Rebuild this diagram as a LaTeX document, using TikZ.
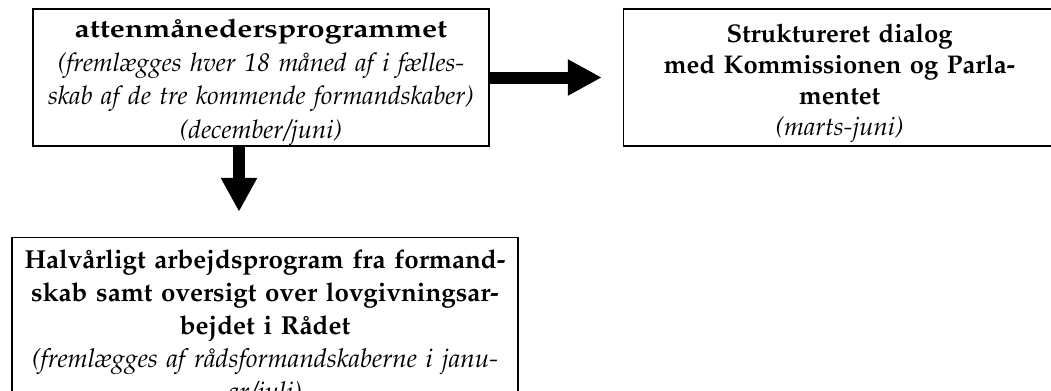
\documentclass[tikz,border=0pt]{standalone}
\usepackage[T1]{fontenc}
\usepackage{mathpazo}
\usepackage{graphicx}
\usetikzlibrary{arrows.meta, positioning}

\begin{document}
\begin{tikzpicture}[
    x=0.5pt, y=-0.5pt,
    node distance=1cm,
    box/.style={draw, rectangle, line width=0.8pt, align=center, inner xsep=0pt, inner ysep=0pt},
    bigarrow/.style={-{Triangle[length=17pt, width=17pt]}, line width=6pt}
]
\useasboundingbox (0,0) rectangle (1051,391);
\clip (0,0) rectangle (1051,391);

% attenmaanedersprogram, dialog og halvaarligt program
\node[box, text width=228pt, minimum height=68.5pt, font=\fontsize{12.8}{13}\selectfont] (prog18) at (261,77.5)
  {\rule{0pt}{14pt}\scalebox{1.18}[1]{\textbf{attenm\aa nedersprogrammet}}\\[3.8pt]
   \textit{(freml\ae gges hver 18 m\aa ned af i f\ae lles-}\\[3.8pt]
   \textit{skab af de tre kommende formandskaber)}\\[3.8pt]
   \textit{(december/juni)}};
\node[box, text width=216pt, minimum height=68.5pt, right=66.5pt of prog18,
  font=\fontsize{12.8}{13.5}\selectfont] (dialog)
  {\rule{0pt}{15pt}\textbf{Struktureret dialog}\\[2pt]
   \textbf{med Kommissionen og Parla-}\\[2pt]
   \textbf{mentet}\\[2pt]
   \textit{(marts-juni)}};
\node[box, text width=253pt, minimum height=91.5pt, below=45pt of prog18, xshift=2pt,
  font=\fontsize{13}{14}\selectfont] (halvaar)
  {\textbf{Halv\aa rligt arbejdsprogram fra formand-}\\[2.5pt]
   \textbf{skab samt oversigt over lovgivningsar-}\\[2.5pt]
   \textbf{bejdet i R\aa det}\\[2.5pt]
   \textit{(freml\ae gges af r\aa dsformandskaberne i janu-}\\[2.5pt]
   \textit{ar/juli)}};

% pile
\draw[bigarrow, shorten >=10.5pt] (prog18) -- (dialog);
\draw[bigarrow, shorten >=12.5pt] ([xshift=-11pt]prog18.south) -- ([xshift=-11pt]prog18.south |- halvaar.north);

\end{tikzpicture}
\end{document}
